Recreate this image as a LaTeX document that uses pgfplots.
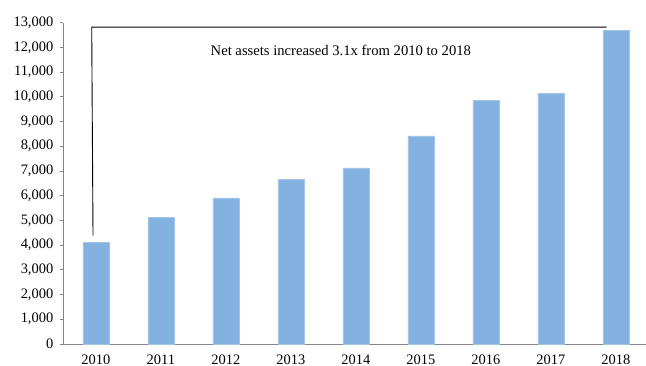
\documentclass[border=0pt]{standalone}
\usepackage{pgfplots}
\pgfplotsset{compat=1.18}
\usepackage{fontspec}
\setmainfont{Liberation Serif}
\definecolor{barblue}{RGB}{131,178,225}
\definecolor{axgray}{RGB}{134,134,134}
\begin{document}
\begin{tikzpicture}[x=1bp,y=1bp]
\begin{axis}[
  name=ax,
  at={(0,0)}, anchor=south west,
  scale only axis,
  width=585bp, height=321.3bp,
  xmin=-0.5, xmax=8.5, ymin=0, ymax=13000,
  axis x line*=bottom, axis y line*=left,
  axis line style={axgray, line width=0.8bp},
  every tick/.style={axgray, line width=0.8bp},
  tick align=outside,
  xtick={0,...,8},
  xticklabels={2010,2011,2012,2013,2014,2015,2016,2017,2018},
  xtick style={draw=none},
  minor xtick={-0.5,0.5,...,8.5},
  minor tick length=5bp,
  major tick length=3.3bp,
  ytick={0,1000,...,13000},
  scaled y ticks=false,
  /pgf/number format/assume math mode=true,
  yticklabel={\pgfmathprintnumber[fixed,1000 sep={,}]{\tick}},
  tick label style={font=\fontsize{14.5}{16}\selectfont, black},
  yticklabel style={xshift=-3.2bp},
  xticklabel style={inner sep=0pt, anchor=north, yshift=-7bp},
  clip=false,
]
\addplot[ybar, bar width=0.4, fill=barblue, draw=barblue!75!white, line width=0.5bp]
  coordinates {(0,4117) (1,5130) (2,5911) (3,6652) (4,7126) (5,8421) (6,9850) (7,10150) (8,12685)};
\addplot[black, line width=0.9bp]
  coordinates {(-0.043,4390) (-0.063,12820) (7.86,12820)};
\node[anchor=base, font=\fontsize{14.7}{16}\selectfont] at (axis cs:3.77,11660) {Net assets increased 3.1x from 2010 to 2018};
\end{axis}
\pgfresetboundingbox
\path[use as bounding box] (-63.3,-21) rectangle (582.7,344);
\end{tikzpicture}
\end{document}
